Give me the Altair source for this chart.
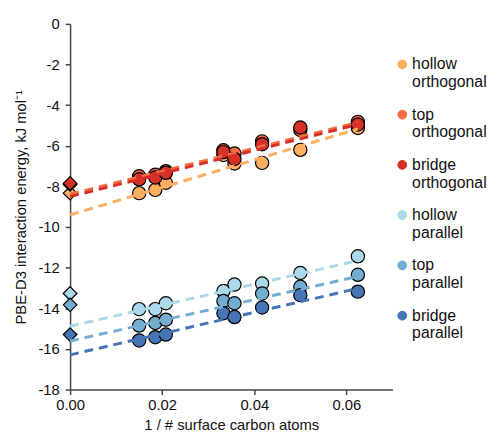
import altair as alt
import pandas as pd

series_names = ["hollow orthogonal", "top orthogonal", "bridge orthogonal",
                "hollow parallel", "top parallel", "bridge parallel"]
series_colors = ["#fdae61", "#f46d43", "#d73027", "#abd9e9", "#74add1", "#4575b4"]

inv_carbon = [0.015, 0.0185, 0.0208, 0.0333, 0.0357, 0.0417, 0.05, 0.0625]

hollow_orth = [-8.33, -8.17, -7.82, -6.45, -6.87, -6.84, -6.20, -5.12]
top_orth = [-7.50, -7.42, -7.25, -6.22, -6.38, -5.78, -5.22, -4.82]
bridge_orth = [-7.65, -7.56, -7.33, -6.31, -6.65, -5.92, -5.10, -4.95]
hollow_par = [-14.04, -14.04, -13.75, -13.15, -12.83, -12.78, -12.26, -11.44]
top_par = [-14.85, -14.72, -14.56, -13.64, -13.75, -13.27, -12.94, -12.35]
bridge_par = [-15.58, -15.42, -15.29, -14.24, -14.43, -13.96, -13.35, -13.18]

# extrapolated values at 1/N = 0 (diamonds)
limit_values = [-8.33, -7.90, -7.85, -13.27, -13.83, -15.29]

# fitted dashed lines, from x = 0 to x = 0.0625
fit_x = [0.0, 0.0625]
fit_start = [-9.40, -8.38, -8.50, -14.88, -15.61, -16.29]
fit_end = [-5.17, -4.85, -4.95, -11.65, -12.43, -13.02]

all_series = [hollow_orth, top_orth, bridge_orth, hollow_par, top_par, bridge_par]

point_rows = []
for name, vals in zip(series_names, all_series):
    for x, y in zip(inv_carbon, vals):
        point_rows.append({"series": name, "x": x, "y": y})
points = pd.DataFrame(point_rows)

diamonds = pd.DataFrame({"series": series_names, "x": [0.0] * 6, "y": limit_values})

line_rows = []
for name, y0, y1 in zip(series_names, fit_start, fit_end):
    line_rows.append({"series": name, "x": fit_x[0], "y": y0})
    line_rows.append({"series": name, "x": fit_x[1], "y": y1})
lines = pd.DataFrame(line_rows)

color_scale = alt.Scale(domain=series_names, range=series_colors)

x_enc = alt.X("x:Q", scale=alt.Scale(domain=[0, 0.07], nice=False),
              axis=alt.Axis(values=[0, 0.02, 0.04, 0.06], format=".2f", labelFlush=False,
                            labelPadding=3, titlePadding=5,
                            title="1 / # surface carbon atoms"))
y_enc = alt.Y("y:Q", scale=alt.Scale(domain=[-18, 0], nice=False),
              axis=alt.Axis(values=list(range(-18, 1, 2)), labelExpr="datum.value + ''",
                            labelPadding=6, titlePadding=10,
                            title="PBE-D3 interaction energy, kJ mol⁻¹"))

legend = alt.Legend(
    title=None, orient="none", legendX=329, legendY=33,
    symbolType="circle", symbolSize=80, symbolStrokeColor="black",
    symbolStrokeWidth=1, symbolOpacity=1, labelFontSize=16, labelColor="#111",
    labelExpr="split(datum.label, ' ')",
    rowPadding=17, labelOffset=2, padding=0, labelLimit=200,
)

circles = alt.Chart(points).mark_circle(size=180, stroke="black", strokeWidth=1.2, opacity=1).encode(
    x=x_enc, y=y_enc,
    color=alt.Color("series:N", scale=color_scale, legend=legend, sort=series_names),
    order=alt.Order("order:Q"),
).transform_calculate(order="indexof(" + str(series_names) + ", datum.series)")

diamond_layer = alt.Chart(diamonds).mark_point(
    shape="diamond", filled=True, size=190, stroke="black", strokeWidth=1.2, opacity=1
).encode(
    x="x:Q", y="y:Q",
    color=alt.Color("series:N", scale=color_scale, legend=None),
)

line_layer = alt.Chart(lines).mark_line(strokeDash=[9, 6], strokeWidth=3).encode(
    x="x:Q", y="y:Q",
    color=alt.Color("series:N", scale=color_scale, legend=None),
    detail="series:N",
)

chart = alt.layer(circles, diamond_layer, line_layer).properties(
    width=327, height=371,
    autosize=alt.AutoSizeParams(type="none"),
    padding={"left": 63, "top": 13, "right": 98, "bottom": 48},
).configure(font="Liberation Sans").configure_view(stroke=None).configure_axis(
    grid=False, domainColor="#444", domainWidth=1.5, tickColor="#444", tickWidth=1.5,
    tickSize=5, labelFontSize=15, labelColor="#111", titleFontSize=15,
    titleFontWeight="normal", titleColor="#111",
)

chart.save("out.html", embed_options={"renderer": "svg", "actions": False})
